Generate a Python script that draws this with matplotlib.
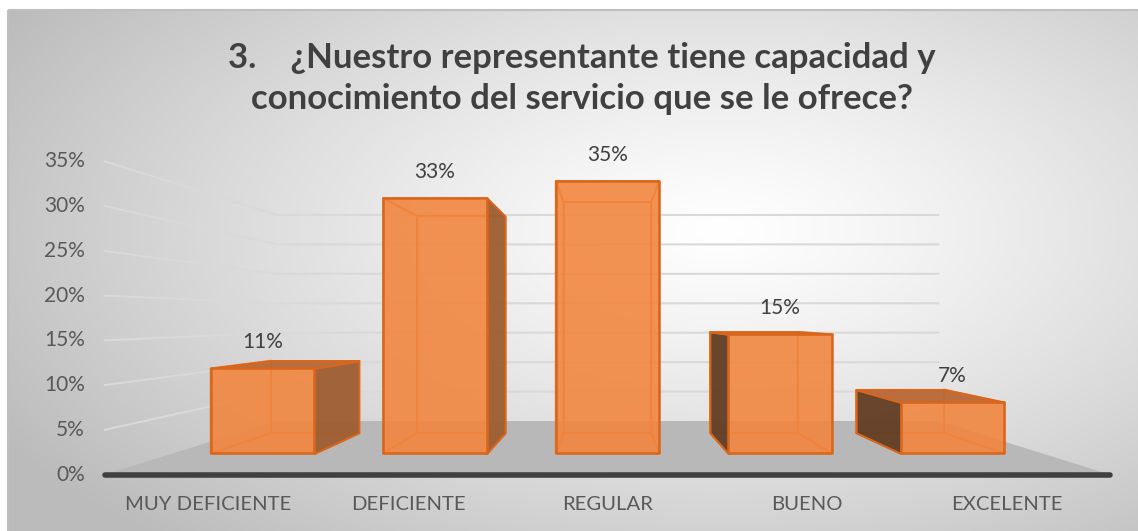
import numpy as np
import matplotlib
matplotlib.use("Agg")
import matplotlib.pyplot as plt
from matplotlib.patches import Rectangle
from mpl_toolkits.mplot3d.art3d import Poly3DCollection

# ---------------- data ----------------
categories = ["MUY DEFICIENTE", "DEFICIENTE", "REGULAR", "BUENO", "EXCELENTE"]
values = [0.11, 0.33, 0.352, 0.154, 0.066]
yticks = [0.0, 0.05, 0.10, 0.15, 0.20, 0.25, 0.30, 0.35]
ytick_labels = ["0%", "5%", "10%", "15%", "20%", "25%", "30%", "35%"]
title = "3.    ¿Nuestro representante tiene capacidad y\nconocimiento del servicio que se le ofrece?"

plt.rcParams["font.family"] = ["Lato", "DejaVu Sans"]

W, H = 1138, 531
fig = plt.figure(figsize=(W / 100, H / 100), dpi=100)


def hide_builtin_texts(a):
    for t in (a.title, a._left_title, a._right_title):
        t.set_visible(False)
    for axis in a._axis_map.values():
        axis.set_visible(False)


# ---------------- background (radial grey gradient) ----------------
bg = fig.add_axes([0, 0, 1, 1])
bg.set_xlim(0, W)
bg.set_ylim(H, 0)
bg.axis("off")
hide_builtin_texts(bg)
xx, yy = np.meshgrid(np.arange(8, W) + 0.5, np.arange(9, H) + 0.5)
r = np.sqrt(((xx - 720) / 750) ** 2 + ((yy - 230) / 380) ** 2)
g = (255 - 60 * np.clip(r, 0, 1.1) ** 1.2) / 255.0
bg.imshow(np.dstack([g, g, g]), extent=(8, W, H, 9), aspect="auto",
          interpolation="bilinear", zorder=0)
bg.add_patch(Rectangle((8.5, 9.5), W, H, fill=False, ec="#BFBFBF", lw=1.5, zorder=1))

# ---------------- 3D perspective axes ----------------
L = 944.0
frac = 0.095 / 0.185
cxp, vyp = 607.5, 213.0
ax = fig.add_axes([(cxp - frac * L) / W, (vyp - frac * L) / H, L / W, L / H],
                  projection="3d", computed_zorder=False)
ax.set_proj_type("persp", focal_length=0.2362)
ax.view_init(elev=0, azim=-90, roll=0)
ax.set_box_aspect((3.21, 2.0, 1.0))
xmin, xmax = -0.52, len(categories) - 1 + 0.52
D = 1.0
zmax = yticks[-1]
ax.set_xlim(xmin, xmax)
ax.set_ylim(0, D)
ax.set_zlim(0, zmax)
ax.set_axis_off()
ax.patch.set_alpha(0)
hide_builtin_texts(ax)

# floor
floor = [[(xmin, 0, 0), (xmax, 0, 0), (xmax, D, 0), (xmin, D, 0)]]
ax.add_collection3d(Poly3DCollection(floor, facecolor="#B8B8B8", edgecolor="none",
                                     zorder=1, clip_on=False))

# gridlines on side wall and back wall
for t in yticks[1:]:
    ax.plot([xmin, xmin, xmax], [0, D, D], [t, t, t], color="#D9D9D9", lw=1.5,
            zorder=2, clip_on=False)

# front edge of floor
ax.plot([xmin, xmax], [0, 0], [0, 0], color="#404040", lw=4, solid_capstyle="round",
        zorder=3, clip_on=False)

# bars
bw = 0.6
y0, y1 = 0.3, 0.7
zc = zmax / 2
xc = (xmin + xmax) / 2
edge = "#D8661C"
z = 10
for i, v in enumerate(values):
    x0, x1 = i - bw / 2, i + bw / 2
    front = [(x0, y0, 0), (x1, y0, 0), (x1, y0, v), (x0, y0, v)]
    back = [(x0, y1, 0), (x1, y1, 0), (x1, y1, v), (x0, y1, v)]
    leftf = [(x0, y0, 0), (x0, y1, 0), (x0, y1, v), (x0, y0, v)]
    rightf = [(x1, y0, 0), (x1, y1, 0), (x1, y1, v), (x1, y0, v)]
    top = [(x0, y0, v), (x1, y0, v), (x1, y1, v), (x0, y1, v)]
    bottom = [(x0, y0, 0), (x1, y0, 0), (x1, y1, 0), (x0, y1, 0)]
    right_vis = x1 < xc
    left_vis = x0 > xc
    top_vis = v < zc
    hidden = [back, bottom]
    if not right_vis:
        hidden.append(rightf)
    if not left_vis:
        hidden.append(leftf)
    if not top_vis:
        hidden.append(top)
    ax.add_collection3d(Poly3DCollection(hidden, facecolor=(0.93, 0.52, 0.25, 0.2),
                                         edgecolor="#EC7A30", lw=1.3, zorder=z,
                                         clip_on=False))
    z += 1
    if right_vis:
        ax.add_collection3d(Poly3DCollection([rightf], facecolor=(0.62, 0.37, 0.20, 0.95),
                                             edgecolor=edge, lw=1.5, zorder=z, clip_on=False))
    if left_vis:
        ax.add_collection3d(Poly3DCollection([leftf], facecolor=(0.38, 0.24, 0.14, 0.95),
                                             edgecolor=edge, lw=1.5, zorder=z, clip_on=False))
    if top_vis:
        ax.add_collection3d(Poly3DCollection([top], facecolor=(0.72, 0.41, 0.22, 0.95),
                                             edgecolor=edge, lw=1.5, zorder=z, clip_on=False))
    z += 1
    ax.add_collection3d(Poly3DCollection([front], facecolor=(0.95, 0.52, 0.24, 0.86),
                                         edgecolor=edge, lw=1.8, zorder=z, clip_on=False))
    z += 1
    ax.text(i, y0, v + 0.0335, f"{v:.0%}", ha="center", va="center",
            fontsize=15, color="#404040", zorder=100)

# axis tick labels
for t, lbl in zip(yticks, ytick_labels):
    ax.text(xmin - 0.1, 0, t, lbl, ha="right", va="center", fontsize=15,
            color="#595959", zorder=100)
for i, c in enumerate(categories):
    ax.text(i, 0, -0.0336, c, ha="center", va="center", fontsize=14.6,
            color="#595959", zorder=100)

fig.text(0.511, 1 - 78.5 / 531, title, ha="center", va="center", fontsize=25,
         fontweight="bold", color="#404040", linespacing=1.36)

fig.savefig("out.png", dpi=100)
